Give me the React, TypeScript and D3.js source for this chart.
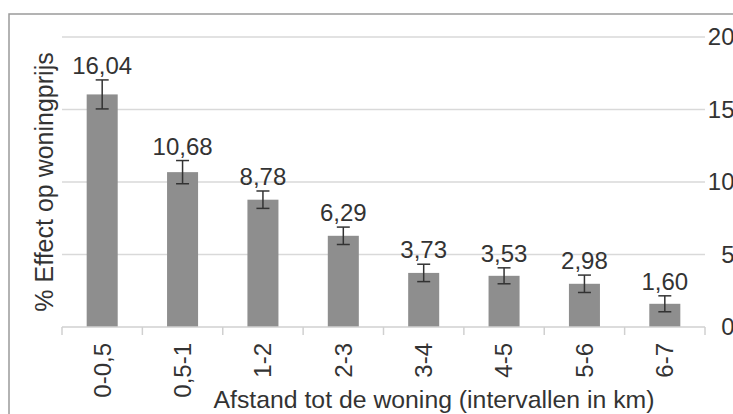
import React from "react";
import * as d3 from "d3";

const categories = ["0-0,5", "0,5-1", "1-2", "2-3", "3-4", "4-5", "5-6", "6-7"];
const values = [16.04, 10.68, 8.78, 6.29, 3.73, 3.53, 2.98, 1.6];
const errors = [1.0, 0.8, 0.6, 0.6, 0.6, 0.55, 0.6, 0.55];
const valueLabels = ["16,04", "10,68", "8,78", "6,29", "3,73", "3,53", "2,98", "1,60"];
const yTicks = [0, 5, 10, 15, 20];
const xTitle = "Afstand tot de woning (intervallen in km)";
const yTitle = "% Effect op woningprijs";

const W = 733;
const H = 414;
const left = 62;
const right = 705;
const top = 37;
const bottom = 327;
const font = "'Liberation Sans', Arial, sans-serif";
const textColor = "#333";

export default function App() {
  const x = d3.scaleBand<string>().domain(categories).range([left, right]).paddingInner(0.614).paddingOuter(0.307);
  const xb = d3.scaleBand<string>().domain(categories).range([left, right]);
  const y = d3.scaleLinear().domain([0, 20]).range([bottom, top]);
  const cap = 6.5;

  return (
    <svg width={W} height={H} style={{ position: "absolute", left: 0, top: 0, background: "#fff" }} fontFamily={font}>
      <rect x={9} y={14} width={900} height={600} fill="none" stroke="#9a9a9a" strokeWidth={1.5} />
      {yTicks.map((t) => (
        <g key={t}>
          {t > 0 && <line x1={left} x2={right} y1={y(t)} y2={y(t)} stroke="#d9d9d9" strokeWidth={1.5} />}
          <text x={734.5} y={y(t)} dy="0.35em" textAnchor="end" fontSize={24} fill={textColor}>
            {t}
          </text>
        </g>
      ))}
      {categories.map((c, i) => {
        const bx = x(c)!;
        const bw = x.bandwidth();
        const cx = bx + bw / 2;
        const v = values[i];
        const e = errors[i];
        const yTop = y(v + e);
        const yBot = y(v - e);
        return (
          <g key={c}>
            <rect x={bx} y={y(v)} width={bw} height={bottom - y(v)} fill="#8e8e8e" />
            <line x1={cx} x2={cx} y1={yTop} y2={yBot} stroke="#333" strokeWidth={1.5} />
            <line x1={cx - cap} x2={cx + cap} y1={yTop} y2={yTop} stroke="#333" strokeWidth={1.5} />
            <line x1={cx - cap} x2={cx + cap} y1={yBot} y2={yBot} stroke="#333" strokeWidth={1.5} />
            <text x={cx} y={yTop - 6} textAnchor="middle" fontSize={24} fill={textColor}>
              {valueLabels[i]}
            </text>
            <text
              transform={`translate(${cx},343) rotate(-90)`}
              dy="0.35em"
              textAnchor="end"
              fontSize={24}
              fill={textColor}
            >
              {c}
            </text>
          </g>
        );
      })}
      <line x1={left} x2={right} y1={bottom} y2={bottom} stroke="#d0d0d0" strokeWidth={1.5} />
      {[...categories.map((c) => xb(c)!), right].map((tx, i) => (
        <line key={i} x1={tx} x2={tx} y1={bottom} y2={bottom + 8} stroke="#d0d0d0" strokeWidth={1.5} />
      ))}
      <text x={(213 + 655) / 2} y={408} textAnchor="middle" fontSize={24.8} fill={textColor}>
        {xTitle}
      </text>
      <text transform="translate(53,182) rotate(-90)" textAnchor="middle" fontSize={25} fill={textColor}>
        {yTitle}
      </text>
    </svg>
  );
}
